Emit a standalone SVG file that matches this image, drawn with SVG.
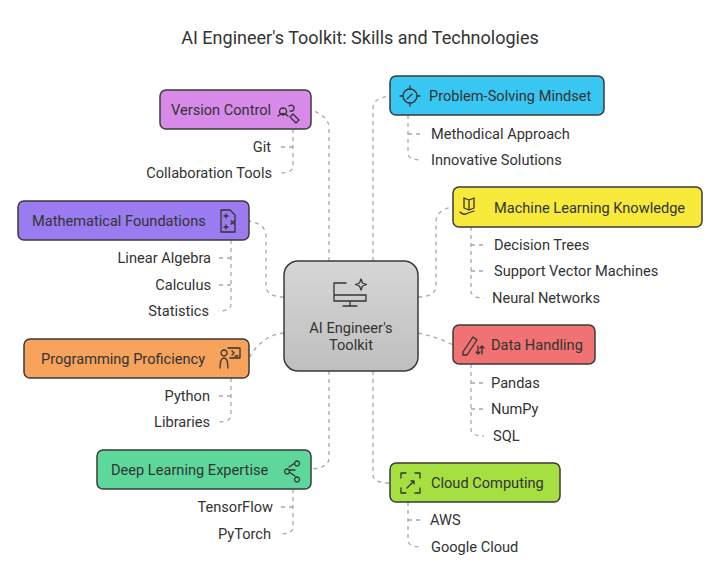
<svg xmlns="http://www.w3.org/2000/svg" width="720" height="567" viewBox="0 0 720 567">
<defs>
<linearGradient id="gc" x1="0" y1="0" x2="0" y2="1"><stop offset="0" stop-color="#d6d6d6"/><stop offset="1" stop-color="#bfbfbf"/></linearGradient>
</defs>
<style>
text{font-family:Roboto,"Liberation Sans",sans-serif;fill:#333;font-size:14.6px}
.box{stroke:#3a3a3a;stroke-width:1.5}
.c{fill:none;stroke:#a8a8a8;stroke-width:1.3;stroke-dasharray:4 4}
.ic{fill:none;stroke:#333;stroke-width:1.3;stroke-linecap:round;stroke-linejoin:round}
.r{text-anchor:end}
</style>
<rect width="720" height="567" fill="#fff"/>
<text x="360" y="44" text-anchor="middle" style="font-size:18px">AI Engineer's Toolkit: Skills and Technologies</text>
<g id="connectors">
<path class="c" d="M329 261V128Q329 116 311 110"/>
<path class="c" d="M373 261V108Q373 98 390 96"/>
<path class="c" d="M284 297Q266 297 266 285V236Q266 224 249 221"/>
<path class="c" d="M418 297Q436 297 436 285V222Q436 210 453 207"/>
<path class="c" d="M284 333Q262 335 249 358"/>
<path class="c" d="M418 333Q440 338 453 345"/>
<path class="c" d="M329 371V458Q329 468 311 469"/>
<path class="c" d="M373 371V475Q373 483 390 483"/>
<path class="c" d="M293 129V166Q293 173 280 173M293 147H279"/>
<path class="c" d="M231 240V304Q231 311 218 311M231 258H217M231 285H217"/>
<path class="c" d="M231 378V415Q231 422 218 422M231 396H217"/>
<path class="c" d="M293 489V527Q293 534 280 534M293 507H279"/>
<path class="c" d="M408 115V153Q408 160 421 160M408 134H422"/>
<path class="c" d="M471 227V291Q471 298 484 298M471 245H485M471 271H485"/>
<path class="c" d="M471 364V429Q471 436 484 436M471 383H485M471 409H485"/>
<path class="c" d="M408 502V540Q408 547 421 547M408 520H422"/>
</g>
<g id="center">
<rect class="box" x="284" y="261" width="134" height="110" rx="14" fill="url(#gc)"/>
<path class="ic" d="M346 283h-12v18h32v-6M334 295h32M350 301v5M343 306h14"/>
<path class="ic" d="M361 279l1.5 4 4 1.5-4 1.5-1.5 4-1.5-4-4-1.5 4-1.5z"/>
<text x="351" y="333" text-anchor="middle">AI Engineer's</text>
<text x="351" y="350" text-anchor="middle">Toolkit</text>
</g>
<g id="version-control">
<rect class="box" x="160" y="90" width="151" height="39" rx="6" fill="#d88ae8"/>
<text x="171" y="115">Version Control</text>
<path class="ic" d="M283 108a3.5 3.5 0 1 0 0.1 0M278 116q5-5 10 0M289 106a3 3 0 1 1 1 5M293 114l6 6-3 3-6-6z"/>
</g>
<g id="git"><text class="r" x="271" y="152">Git</text></g>
<g id="collab"><text class="r" x="272" y="178">Collaboration Tools</text></g>
<g id="math">
<rect class="box" x="18" y="201" width="231" height="39" rx="6" fill="#9b7cf0"/>
<text x="32" y="226">Mathematical Foundations</text>
<path class="ic" d="M221 210h9l5 5v17h-14zM224 216h4M226 214v4M231 221l3 3M234 221l-3 3M224 227h4M226 225v4"/>
</g>
<g id="la"><text class="r" x="211" y="263">Linear Algebra</text></g>
<g id="calc"><text class="r" x="211" y="290">Calculus</text></g>
<g id="stat"><text class="r" x="209" y="316">Statistics</text></g>
<g id="programming">
<rect class="box" x="24" y="339" width="225" height="39" rx="6" fill="#f7a35c"/>
<text x="41" y="364">Programming Proficiency</text>
<path class="ic" d="M224 350a3 3 0 1 0 0.1 0M220 368q0-10 4-10t4 10M228 348h12v10h-10M232 351l2 2-2 2M235 356h3"/>
</g>
<g id="python"><text class="r" x="210" y="401">Python</text></g>
<g id="libraries"><text class="r" x="210" y="427">Libraries</text></g>
<g id="deep">
<rect class="box" x="97" y="450" width="214" height="39" rx="6" fill="#5ed89a"/>
<text x="111" y="475">Deep Learning Expertise</text>
<path class="ic" d="M287 469a2.5 2.5 0 1 0 0.1 0M297 461a2.5 2.5 0 1 0 0.1 0M297 477a2.5 2.5 0 1 0 0.1 0M290 470h5M289 467l6-4M289 472l6 4"/>
</g>
<g id="tf"><text class="r" x="273" y="512">TensorFlow</text></g>
<g id="pt"><text class="r" x="271" y="539">PyTorch</text></g>
<g id="problem">
<rect class="box" x="390" y="76" width="214" height="39" rx="6" fill="#38c6f2"/>
<circle class="ic" cx="410" cy="96" r="7"/><path class="ic" d="M410 86v3M410 103v3M400 96h3M417 96h3M407 99l5-5"/>
<text x="429" y="101">Problem-Solving Mindset</text>
</g>
<g id="method"><text x="431" y="139">Methodical Approach</text></g>
<g id="innov"><text x="431" y="165">Innovative Solutions</text></g>
<g id="ml">
<rect class="box" x="453" y="187" width="249" height="40" rx="6" fill="#f8ea3a"/>
<path class="ic" d="M464 198l5 2 5-2v10l-5 2-5-2zM469 200v10M460 212q4 4 8 1l6-2"/>
<text x="494" y="213">Machine Learning Knowledge</text>
</g>
<g id="dt"><text x="494" y="250">Decision Trees</text></g>
<g id="svm"><text x="494" y="276">Support Vector Machines</text></g>
<g id="nn"><text x="492" y="303">Neural Networks</text></g>
<g id="data">
<rect class="box" x="453" y="325" width="142" height="39" rx="6" fill="#f07272"/>
<path class="ic" d="M463 352l10-15 4 3-10 15h-4zM478 346v8M476 352l2 2 2-2M482 354v-8M480 348l2-2 2 2"/>
<text x="491" y="350">Data Handling</text>
</g>
<g id="pandas"><text x="491" y="388">Pandas</text></g>
<g id="numpy"><text x="491" y="414">NumPy</text></g>
<g id="sql"><text x="493" y="441">SQL</text></g>
<g id="cloud">
<rect class="box" x="390" y="463" width="170" height="39" rx="6" fill="#a5e040"/>
<path class="ic" d="M401 478v-5h5M420 478v-5h-5M401 488v5h5M420 488v5h-5M407 488l7-7M411 481h3v3"/>
<text x="431" y="488">Cloud Computing</text>
</g>
<g id="aws"><text x="430" y="525">AWS</text></g>
<g id="gcloud"><text x="431" y="552">Google Cloud</text></g>
</svg>
